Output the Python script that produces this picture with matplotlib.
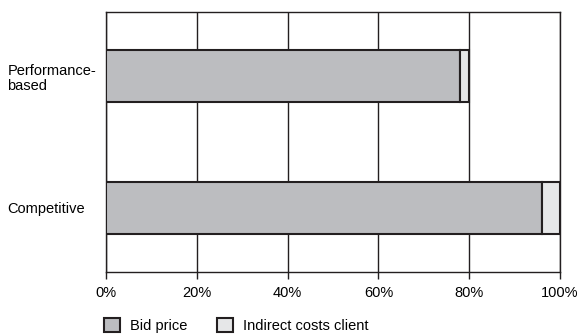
import matplotlib.pyplot as plt
import numpy as np

# data
categories = ["Competitive", "Performance-\nbased"]
bid_price = [96, 78]
indirect_costs = [4, 2]
series_names = ["Bid price", "Indirect costs client"]
ticks = [0, 20, 40, 60, 80, 100]
tick_labels = ["0%", "20%", "40%", "60%", "80%", "100%"]

plt.rcParams['font.family'] = ['Liberation Sans', 'DejaVu Sans']

fig = plt.figure(figsize=(5.84, 3.36), dpi=100)
ax = fig.add_axes([0.1815, 0.1905, 0.7774, 0.7738])

edge = '#231f20'
y = np.arange(len(categories))

ax.barh(y, bid_price, height=0.4, color='#bcbdc0', edgecolor=edge,
        linewidth=1.5, label=series_names[0], zorder=3)
ax.barh(y, indirect_costs, left=bid_price, height=0.4, color='#e6e7e8',
        edgecolor=edge, linewidth=1.5, label=series_names[1], zorder=3)

ax.set_xlim(0, 100)
ax.set_ylim(-0.485, 1.485)
ax.set_xticks(ticks)
ax.set_xticklabels(tick_labels, fontsize=10.5)
ax.set_yticks(y)
ax.set_yticklabels(categories, fontsize=10.5, ha='left', linespacing=1.1)
ax.tick_params(axis='y', length=0, pad=71)
ax.tick_params(axis='x', length=5, width=1, color=edge, pad=5)
ax.xaxis.grid(True, color=edge, linewidth=1, zorder=0)
ax.set_axisbelow(True)
for s in ax.spines.values():
    s.set_color(edge)
    s.set_linewidth(1)

fig.legend(loc='lower left', bbox_to_anchor=(0.168, -0.008), ncol=2,
           frameon=False, fontsize=10.5, handlelength=1.1, handleheight=1.1,
           handletextpad=0.7, columnspacing=2.0, borderaxespad=0)

fig.savefig('out.png', dpi=100)
